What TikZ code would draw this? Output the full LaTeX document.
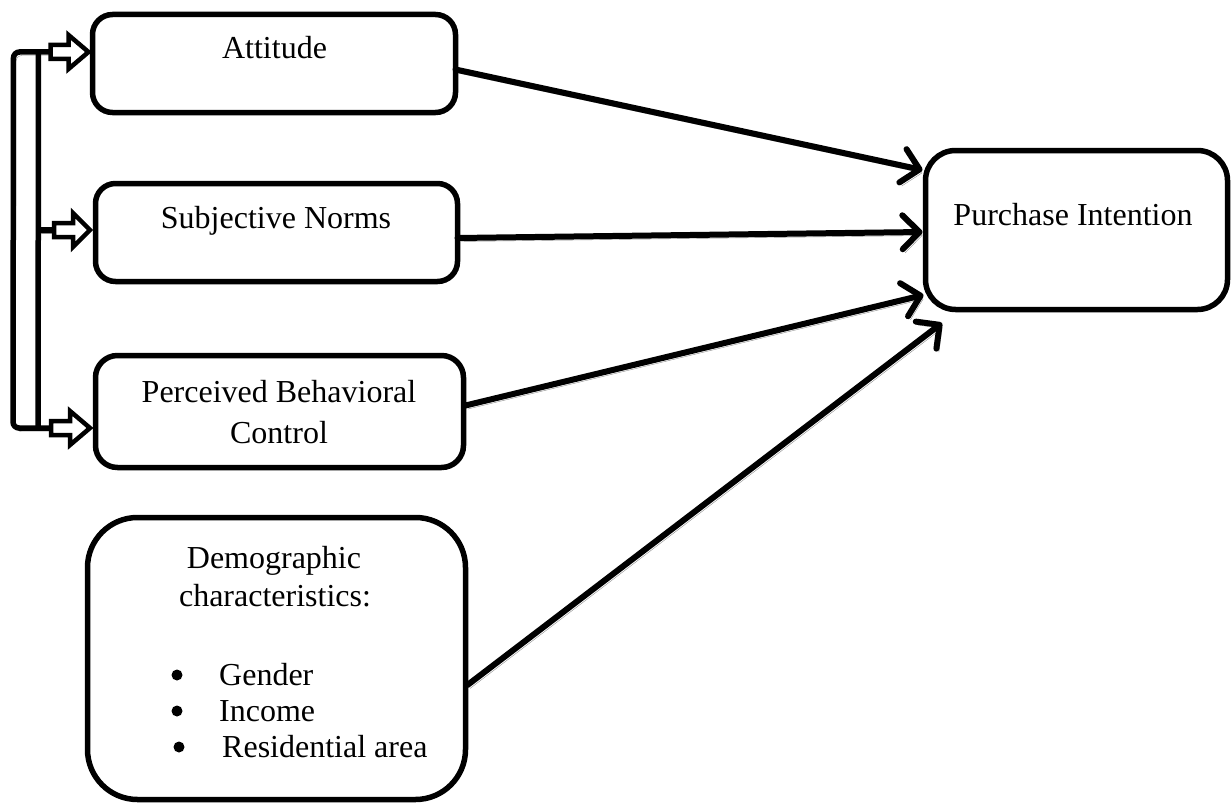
\documentclass[tikz,border=0pt]{standalone}
\usepackage{fontspec}
\setmainfont{Liberation Serif}
\usetikzlibrary{arrows.meta,calc}
\tikzset{
  box/.style={draw=black, line width=5.5pt, fill=white, inner sep=0pt, outer sep=0pt},
  txt/.style={font=\fontsize{32}{36}\selectfont, inner sep=0pt, anchor=base},
  dot/.style={circle, fill=black, inner sep=0pt, minimum size=11pt},
  shadowed/.style={preaction={draw=black!45, transform canvas={shift={(2.5pt,-3.5pt)}}}},
  link/.style={line width=6pt, line cap=round, shadowed,
    -{Straight Barb[length=17pt,width=34pt,line cap=round,line join=round]}},
  brk/.style={line width=5.5pt, shadowed},
  barrow/.style={draw=black, line width=4.5pt, fill=white, line join=miter},
}
\begin{document}
\begin{tikzpicture}[x=1pt,y=-1pt]
\useasboundingbox (0,0) rectangle (1231,808);

% boxes
\node[box, rounded corners=20pt, minimum width=363pt, minimum height=98pt] (att) at (274,63.5) {};
\node[box, rounded corners=20pt, minimum width=362pt, minimum height=98pt] (sn) at (276.5,232.5) {};
\node[box, rounded corners=22pt, minimum width=368pt, minimum height=112pt] (pbc) at (279.5,411.5) {};
\node[box, rounded corners=50pt, minimum width=378pt, minimum height=282pt] (dem) at (276.5,658.5) {};
\node[box, rounded corners=30pt, minimum width=302pt, minimum height=159pt] (pi) at (1076.5,230) {};

% texts
\node[txt] (attt) at (274.5,59) {Attitude};
\node[txt] (snt) at (276,228) {Subjective Norms};
\node[txt] (pbct1) at (279,402) {Perceived Behavioral};
\node[txt] (pbct2) at (279,443) {Control};
\node[txt] (pit) at (1073,225) {Purchase Intention};
\node[txt] (demt1) at (274,568) {Demographic};
\node[txt] (demt2) at (275,606) {characteristics:};
\node[dot] (b1) at (177,675) {};
\node[dot] (b2) at (177,711) {};
\node[dot] (b3) at (179,747) {};
\node[txt, anchor=base west] (i1) at (219,685) {Gender};
\node[txt, anchor=base west] (i2) at (219,721) {Income};
\node[txt, anchor=base west] (i3) at (222,757) {Residential area};

% bracket
\coordinate (ta) at ([shift={(-4,-11.5)}]att.west);
\coordinate (tb) at ([shift={(-5.5,-2.5)}]sn.west);
\coordinate (tc) at ([shift={(-5.5,16.5)}]pbc.west);
\draw[brk, rounded corners=6pt] ($(ta)+(-36,0)$) -- ($(ta)+(-75,0)$) -- ($(tc)+(-77,0)$) -- ($(tc)+(-38,0)$);
\draw[line width=5.5pt] ($(ta)+(-50,0)$) -- ($(tc)+(-52,0)$);
\draw[brk] ($(tb)+(-52,0)$) -- ($(tb)+(-33,0)$);

% block arrows
\draw[barrow] (ta) -- ++(-20,-17) -- ++(0,10) -- ++(-18,0) -- ++(0,14) -- ++(18,0) -- ++(0,10) -- cycle;
\draw[barrow] (tb) -- ++(-17,-17) -- ++(0,10) -- ++(-19,0) -- ++(0,14) -- ++(19,0) -- ++(0,10) -- cycle;
\draw[barrow] (tc) -- ++(-20,-17) -- ++(0,10) -- ++(-19,0) -- ++(0,14) -- ++(19,0) -- ++(0,10) -- cycle;

% connectors
\draw[link] ([shift={(0,6)}]att.east) -- ([shift={(-3,-60)}]pi.west);
\draw[link] ([shift={(0,5.5)}]sn.east) -- ([shift={(-3,2)}]pi.west);
\draw[link] ([shift={(2,-6)}]pbc.east) -- ([shift={(-2,65)}]pi.west);
\draw[link] ([shift={(2,26.5)}]dem.east) -- ([shift={(16.5,13.5)}]pi.south west);
\end{tikzpicture}
\end{document}
